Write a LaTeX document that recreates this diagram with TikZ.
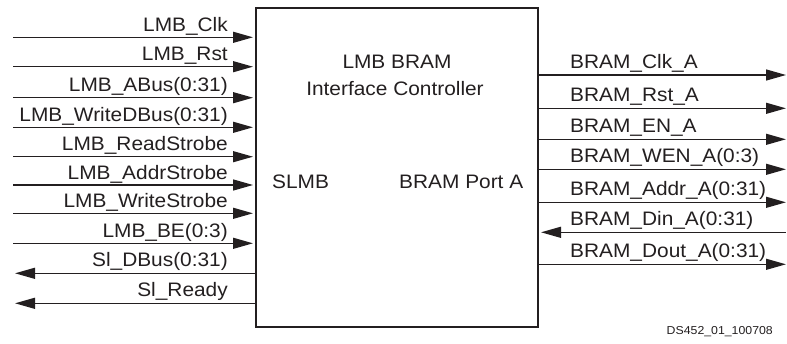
\documentclass[tikz,border=0pt]{standalone}
\usepackage{fontspec}
\setmainfont{Liberation Sans}[FakeStretch=1.07]
\usetikzlibrary{arrows.meta}
\definecolor{ink}{HTML}{231F20}
\tikzset{
  sig/.style={draw=ink, line width=1.3pt, -{Triangle[length=20pt,width=11pt]}},
  sigin/.style={draw=ink, line width=1.3pt, {Triangle[length=20pt,width=11pt]}-},
  lbl/.style={inner sep=0pt, text=ink, font=\fontsize{19.5}{22}\selectfont},
  lblL/.style={lbl, anchor=base east},
  lblR/.style={lbl, anchor=base west},
  ctrlbox/.style={draw=ink, line width=2pt, minimum width=282pt, minimum height=319pt, inner sep=0pt}
}
\begin{document}
\begin{tikzpicture}[x=1pt,y=-1pt]
\useasboundingbox (0,0) rectangle (787,343);
\node[ctrlbox] (ctrl) at (397,167.5) {};
\node[lbl, anchor=base] (t1) at (397,68) {LMB BRAM};
\node[lbl, anchor=base] (t2) at (395,95) {Interface Controller};
\node[lblR] (slmb) at (272,188) {SLMB};
\node[lblR] (port) at (399,188) {BRAM Port A};
% left inputs
\foreach \n/\y/\t in {a/37.3/LMB\_Clk, b/66.7/LMB\_Rst, c/97.7/LMB\_ABus(0:31), d/127.3/LMB\_WriteDBus(0:31), e/156.7/LMB\_ReadStrobe, f/185/LMB\_AddrStrobe, g/213.3/LMB\_WriteStrobe, h/243.3/LMB\_BE(0:3)}{
  \coordinate (L\n) at (13,\y);
  \draw[sig, shorten >=2pt] (L\n) -- (L\n -| ctrl.west);
  \node[lblL] (lab\n) at (228,\y-6) {\t};
}
% left outputs
\foreach \n/\y/\t in {i/273.3/Sl\_DBus(0:31), j/303.3/Sl\_Ready}{
  \coordinate (L\n) at (15,\y);
  \draw[sigin] (L\n) -- (L\n -| ctrl.west);
  \node[lblL] (lab\n) at (228,\y-7) {\t};
}
% right outputs
\foreach \n/\y/\t in {a/75/BRAM\_Clk\_A, b/108.3/BRAM\_Rst\_A, c/139.3/BRAM\_EN\_A, d/169.3/BRAM\_WEN\_A(0:3), e/202.3/BRAM\_Addr\_A(0:31), g/264.3/BRAM\_Dout\_A(0:31)}{
  \coordinate (R\n) at (786,\y);
  \draw[sig] (R\n -| ctrl.east) -- (R\n);
  \node[lblR] (rlab\n) at (570,\y-7) {\t};
}
% right input
\coordinate (Rf) at (786,232.3);
\draw[sigin, shorten <=2pt] (Rf -| ctrl.east) -- (Rf);
\node[lblR] (rlabf) at (570,232.3-7) {BRAM\_Din\_A(0:31)};
\node[inner sep=0pt, anchor=base east, text=ink, font=\fontsize{11.5}{13}\selectfont] (foot) at (773,334) {DS452\_01\_100708};
\end{tikzpicture}
\end{document}
